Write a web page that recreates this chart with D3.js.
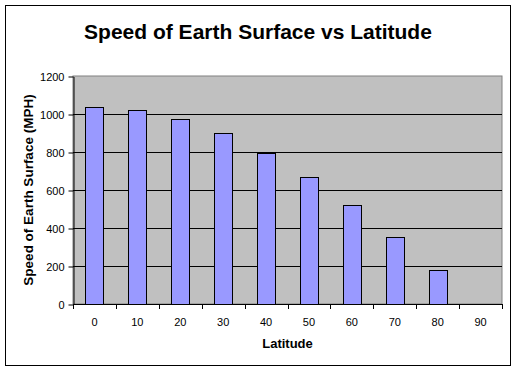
<!DOCTYPE html>
<html>
<head>
<meta charset="utf-8">
<script src="https://cdn.jsdelivr.net/npm/d3@7"></script>
<style>
  body { margin: 0; background: #fff; }
  text { font-family: "Liberation Sans", Arial, sans-serif; }
</style>
</head>
<body>
<svg id="chart" width="517" height="370"></svg>
<script>
// data
var latitudes = ["0", "10", "20", "30", "40", "50", "60", "70", "80", "90"];
var speeds = [1036, 1020, 973, 898, 795, 668, 520, 354, 179, 0];
var yTicks = [0, 200, 400, 600, 800, 1000, 1200];

var svg = d3.select("#chart");
var plot = {left: 73, top: 76, right: 502, bottom: 304};

// outer frame
svg.append("rect")
  .attr("x", 5.5).attr("y", 5.5)
  .attr("width", 505).attr("height", 360)
  .attr("fill", "#fff").attr("stroke", "#000");

var x = d3.scaleBand()
  .domain(latitudes)
  .range([plot.left, plot.right])
  .paddingInner(0.58).paddingOuter(0.29);

var xCat = d3.scaleBand().domain(latitudes).range([plot.left, plot.right]);

var y = d3.scaleLinear().domain([0, 1200]).range([plot.bottom, plot.top]);

// plot background
svg.append("rect")
  .attr("x", plot.left).attr("y", plot.top)
  .attr("width", plot.right - plot.left).attr("height", plot.bottom - plot.top)
  .attr("fill", "#c0c0c0").attr("stroke", "#808080");

// gridlines
svg.append("g").selectAll("line")
  .data(yTicks.filter(function(d) { return d > 0 && d < 1200; }))
  .enter().append("line")
  .attr("x1", plot.left).attr("x2", plot.right)
  .attr("y1", function(d) { return Math.round(y(d)) + 0.5; })
  .attr("y2", function(d) { return Math.round(y(d)) + 0.5; })
  .attr("stroke", "#000");

// bars
svg.append("g").selectAll("rect")
  .data(speeds)
  .enter().append("rect")
  .attr("x", function(d, i) { return Math.round(x(latitudes[i])) + 0.5; })
  .attr("y", function(d) { return Math.round(y(d)) + 0.5; })
  .attr("width", Math.round(x.bandwidth()))
  .attr("height", function(d) { return Math.round(y(0)) - Math.round(y(d)); })
  .attr("fill", "#9999ff")
  .attr("stroke", "#000")
  .style("display", function(d) { return d > 0 ? null : "none"; });

// y axis
var yAxis = svg.append("g")
  .attr("transform", "translate(" + (plot.left + 0.5) + ",0.5)")
  .call(d3.axisLeft(y).tickValues(yTicks).tickFormat(d3.format("d"))
    .tickSizeInner(5).tickSizeOuter(0).tickPadding(4));
yAxis.select(".domain").attr("stroke", "#000");
yAxis.selectAll("text").attr("font-size", 11).attr("font-family", "Liberation Sans, Arial, sans-serif");

// x axis: ticks at category boundaries
var xAxis = svg.append("g");
xAxis.append("line")
  .attr("x1", plot.left).attr("x2", plot.right + 1)
  .attr("y1", plot.bottom + 0.5).attr("y2", plot.bottom + 0.5)
  .attr("stroke", "#000");
xAxis.selectAll(".tick")
  .data(latitudes.concat(["end"]))
  .enter().append("line")
  .attr("x1", function(d, i) { return Math.round(plot.left + i * xCat.bandwidth()) + 0.5; })
  .attr("x2", function(d, i) { return Math.round(plot.left + i * xCat.bandwidth()) + 0.5; })
  .attr("y1", plot.bottom).attr("y2", plot.bottom + 5)
  .attr("stroke", "#000");
xAxis.selectAll("text")
  .data(latitudes)
  .enter().append("text")
  .attr("x", function(d) { return xCat(d) + xCat.bandwidth() / 2; })
  .attr("y", 326)
  .attr("text-anchor", "middle")
  .attr("font-size", 11)
  .text(function(d) { return d; });

// titles
svg.append("text")
  .attr("x", 258).attr("y", 39)
  .attr("text-anchor", "middle")
  .attr("font-size", 21).attr("font-weight", "bold")
  .text("Speed of Earth Surface vs Latitude");

svg.append("text")
  .attr("x", (plot.left + plot.right) / 2).attr("y", 348)
  .attr("text-anchor", "middle")
  .attr("font-size", 13).attr("font-weight", "bold")
  .text("Latitude");

svg.append("text")
  .attr("transform", "translate(33," + ((plot.top + plot.bottom) / 2) + ") rotate(-90)")
  .attr("text-anchor", "middle")
  .attr("font-size", 13.5).attr("font-weight", "bold")
  .text("Speed of Earth Surface (MPH)");
</script>
</body>
</html>
